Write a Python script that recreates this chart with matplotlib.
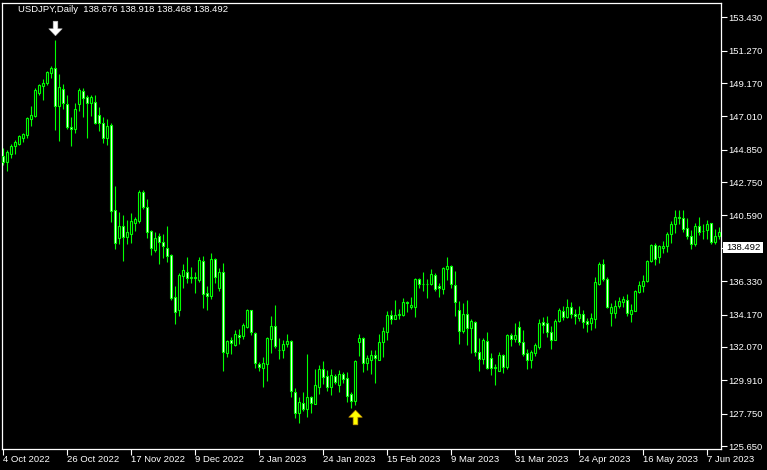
import numpy as np
import matplotlib.pyplot as plt
import matplotlib.transforms as mtransforms
from matplotlib.patches import Rectangle

plt.rcParams['font.family'] = ['Liberation Sans', 'DejaVu Sans']

symbol = "USDJPY,Daily"

# daily OHLC, one bar per trading day starting 4 Oct 2022 (last bar is the live one)
opens = [144.45, 144.06, 144.56, 145.10, 145.23, 145.64, 145.81, 146.87, 147.02, 148.51,
         148.98, 149.20, 149.82, 150.13, 147.69, 148.81, 147.84, 146.33, 146.20, 147.78,
         148.64, 148.25, 147.88, 147.91, 147.13, 146.61, 145.61, 146.48, 140.93, 139.14,
         139.90, 139.20, 139.42, 140.11, 140.24, 142.08, 141.11, 139.57, 138.34, 139.23,
         138.84, 138.45, 138.02, 135.28, 134.48, 136.66, 136.90, 136.55, 136.57, 136.42,
         137.61, 135.54, 135.38, 137.74, 135.88, 136.90, 131.65, 132.50, 132.19, 132.84,
         132.79, 133.38, 134.44, 132.95, 130.96, 130.72, 130.94, 132.56, 133.42, 131.88,
         131.85, 132.26, 132.43, 129.17, 127.77, 128.42, 128.03, 128.80, 128.39, 129.45,
         130.62, 130.18, 129.49, 130.18, 129.62, 130.31, 130.03, 129.02, 128.57, 132.41,
         132.62, 131.03, 131.24, 131.52, 131.24, 132.37, 133.05, 134.13, 133.89, 134.17,
         134.15, 135.00, 134.67, 134.67, 136.46, 136.12, 136.15, 136.12, 136.72, 136.01,
         135.82, 137.09, 137.31, 136.06, 134.48, 133.12, 134.18, 133.31, 133.68, 131.72,
         131.27, 132.43, 131.33, 130.72, 130.51, 131.52, 130.79, 132.82, 132.58, 133.34,
         132.37, 131.65, 131.24, 131.69, 132.08, 133.66, 133.60, 133.05, 132.53, 133.77,
         134.39, 134.02, 134.63, 134.18, 133.96, 134.18, 133.73, 133.63, 133.86, 136.12,
         137.42, 136.45, 134.24, 134.24, 134.74, 135.00, 135.09, 134.22, 134.41, 135.60,
         136.03, 136.32, 137.61, 138.65, 137.91, 138.49, 138.58, 139.42, 140.01, 140.52,
         140.40, 139.75, 139.27, 138.75, 139.91, 139.56, 139.62, 140.07, 138.88, 139.29,
         138.676]
highs = [144.93, 144.86, 145.21, 145.47, 145.79, 145.92, 146.95, 147.67, 148.88, 149.11,
         149.41, 149.93, 150.26, 151.94, 149.74, 149.09, 148.42, 146.94, 147.86, 148.85,
         148.85, 148.38, 148.42, 148.38, 147.60, 146.95, 146.82, 146.57, 142.49, 140.80,
         140.61, 140.28, 140.74, 140.50, 142.23, 142.23, 141.64, 139.64, 139.49, 139.44,
         139.38, 139.90, 138.08, 136.01, 136.85, 137.44, 137.89, 137.22, 136.90, 137.87,
         137.95, 136.01, 138.15, 137.82, 137.18, 137.50, 132.51, 132.69, 133.18, 133.23,
         133.60, 134.52, 134.46, 133.05, 131.07, 131.41, 132.73, 134.07, 134.78, 132.64,
         132.51, 132.90, 132.51, 129.39, 128.84, 129.13, 131.61, 128.89, 130.64, 130.90,
         131.15, 130.57, 130.64, 130.31, 130.55, 130.42, 130.42, 129.17, 131.22, 132.90,
         132.73, 131.52, 131.87, 131.87, 132.88, 133.34, 134.39, 134.44, 135.11, 134.50,
         135.23, 135.04, 135.32, 136.55, 136.53, 136.90, 136.46, 137.11, 136.83, 136.22,
         137.22, 137.91, 137.39, 136.98, 135.04, 134.91, 135.11, 133.85, 133.77, 132.64,
         132.64, 133.01, 131.67, 130.96, 131.74, 131.61, 132.90, 132.97, 133.60, 133.77,
         133.16, 131.91, 131.89, 132.34, 133.87, 134.02, 134.07, 133.42, 133.85, 134.57,
         134.72, 135.15, 134.97, 134.52, 134.70, 134.44, 133.94, 134.28, 136.57, 137.57,
         137.76, 136.57, 134.89, 135.11, 135.28, 135.34, 135.47, 134.83, 135.75, 136.33,
         136.70, 137.70, 138.75, 138.78, 138.69, 138.94, 139.51, 140.22, 140.93, 140.93,
         140.93, 140.40, 139.64, 140.07, 140.46, 140.03, 140.28, 140.11, 139.68, 139.81,
         138.918]
lows = [143.85, 143.48, 144.32, 144.56, 145.14, 145.36, 145.61, 146.39, 146.94, 148.38,
        148.07, 149.07, 149.50, 146.11, 145.40, 147.47, 146.18, 145.08, 145.94, 147.36,
        146.97, 145.61, 147.02, 146.50, 146.07, 145.29, 145.14, 140.18, 138.43, 138.71,
        137.63, 138.71, 138.81, 139.59, 140.11, 141.00, 139.16, 138.02, 138.23, 137.44,
        137.84, 137.60, 135.11, 133.55, 134.09, 135.90, 136.19, 136.19, 135.56, 136.27,
        134.59, 134.46, 135.17, 136.21, 135.71, 130.51, 131.43, 131.63, 132.15, 132.28,
        132.58, 133.31, 132.84, 130.72, 130.53, 129.49, 129.88, 131.65, 131.98, 131.30,
        131.37, 132.04, 128.84, 127.44, 127.16, 127.92, 127.55, 127.77, 128.35, 129.04,
        129.67, 129.21, 128.97, 129.69, 129.15, 129.71, 128.52, 128.09, 128.31, 131.48,
        130.44, 130.57, 130.31, 129.75, 131.20, 131.43, 132.51, 133.57, 133.87, 133.89,
        134.09, 134.33, 134.50, 134.02, 135.90, 135.69, 135.25, 136.10, 135.71, 135.32,
        135.49, 136.40, 135.90, 134.09, 132.26, 132.95, 132.19, 131.65, 131.48, 130.53,
        130.96, 130.64, 130.27, 129.60, 130.49, 130.40, 130.66, 132.15, 132.37, 132.19,
        131.48, 130.62, 130.72, 131.48, 131.95, 132.95, 132.73, 131.95, 132.51, 133.66,
        133.81, 133.92, 133.94, 133.53, 133.77, 133.29, 133.01, 133.18, 133.31, 136.06,
        136.33, 134.59, 133.44, 133.92, 134.57, 134.67, 134.09, 133.68, 134.37, 135.58,
        135.62, 136.29, 137.55, 137.39, 137.48, 138.17, 138.23, 138.78, 139.46, 140.03,
        139.53, 139.05, 138.39, 138.60, 139.31, 139.05, 139.04, 138.73, 138.75, 139.07,
        138.468]
closes = [144.06, 144.67, 145.12, 145.34, 145.72, 145.85, 146.89, 147.08, 148.70, 149.03,
          149.20, 149.87, 150.13, 147.69, 148.90, 147.88, 146.33, 146.20, 147.47, 148.70,
          148.20, 147.88, 148.25, 146.59, 146.55, 145.61, 146.39, 140.89, 138.78, 139.90,
          139.20, 139.51, 140.22, 140.35, 142.08, 141.15, 139.53, 138.50, 139.14, 138.88,
          138.62, 137.97, 135.22, 134.31, 136.72, 137.05, 136.55, 136.58, 136.56, 137.70,
          135.51, 135.38, 137.74, 136.57, 136.90, 131.72, 132.45, 132.30, 132.90, 132.69,
          133.49, 134.46, 133.01, 131.05, 130.79, 131.01, 132.64, 133.42, 132.13, 131.85,
          132.26, 132.45, 129.24, 127.81, 128.48, 128.07, 128.80, 128.42, 129.58, 130.64,
          130.14, 129.49, 130.23, 129.81, 130.31, 129.99, 128.91, 128.58, 131.14, 132.62,
          131.01, 131.33, 131.52, 131.37, 132.37, 133.10, 134.13, 133.89, 134.13, 134.20,
          134.98, 134.89, 134.76, 136.46, 136.12, 136.15, 136.14, 136.79, 135.80, 135.86,
          137.16, 137.31, 136.12, 134.96, 133.12, 134.20, 133.31, 133.74, 131.76, 131.28,
          132.51, 130.70, 130.72, 130.75, 131.52, 130.79, 132.82, 132.60, 132.82, 132.41,
          131.63, 131.24, 131.72, 132.17, 133.61, 133.51, 133.05, 132.53, 133.74, 134.44,
          134.00, 134.63, 134.18, 134.05, 134.18, 133.66, 133.57, 133.94, 136.25, 137.42,
          136.45, 134.63, 134.63, 134.74, 135.02, 135.17, 134.24, 134.44, 135.69, 136.06,
          136.32, 137.63, 138.65, 137.78, 138.58, 138.60, 139.42, 140.03, 140.52, 140.40,
          139.72, 139.27, 138.75, 139.90, 139.53, 139.59, 140.01, 138.86, 139.29, 139.53,
          138.492]

date_bars = [0, 16, 32, 48, 64, 80, 96, 112, 128, 144, 160, 176]
date_labels = ["4 Oct 2022", "26 Oct 2022", "17 Nov 2022", "9 Dec 2022", "2 Jan 2023",
               "24 Jan 2023", "15 Feb 2023", "9 Mar 2023", "31 Mar 2023", "24 Apr 2023",
               "16 May 2023", "7 Jun 2023"]
price_ticks = [153.430, 151.270, 149.170, 147.010, 144.850, 142.750, 140.590,
               136.330, 134.170, 132.070, 129.910, 127.750, 125.650]

high_arrow_bar = 13
low_arrow_bar = 88

W, H = 767, 470
fig = plt.figure(figsize=(W / 100, H / 100), dpi=100, facecolor='black')
ax = fig.add_axes([2 / W, 21 / H, 719 / W, 446 / H], facecolor='black')

o = np.array(opens)
hi = np.array(highs)
lo = np.array(lows)
c = np.array(closes)
x = np.arange(len(o))
up = c >= o
lime = '#00ff00'

ax.vlines(x, lo, hi, color=lime, lw=0.8, zorder=2)
bottom = np.minimum(o, c)
height = np.abs(c - o)
ax.bar(x[up], height[up], bottom=bottom[up], width=0.5, facecolor='black',
       edgecolor=lime, lw=0.8, zorder=3)
ax.bar(x[~up], height[~up], bottom=bottom[~up], width=0.5, facecolor='white',
       edgecolor=lime, lw=0.8, zorder=3)

ax.set_xlim(-0.33, 179.43)
ax.set_ylim(125.456, 154.357)

# fractal style arrows
down_arrow = [(-0.16, 0.5), (0.16, 0.5), (0.16, -0.02), (0.46, -0.02), (0, -0.5),
              (-0.46, -0.02), (-0.16, -0.02), (-0.16, 0.5)]
up_arrow = [(vx, -vy) for vx, vy in down_arrow]
t_up = mtransforms.offset_copy(ax.transData, fig, y=12, units='dots')
t_dn = mtransforms.offset_copy(ax.transData, fig, y=-12.5, units='dots')
ax.plot(high_arrow_bar, hi[high_arrow_bar], marker=down_arrow, ms=10.5, color='white',
        mec='#bbbbbb', mew=0.4, transform=t_up, clip_on=False, zorder=5)
ax.plot(low_arrow_bar, lo[low_arrow_bar], marker=up_arrow, ms=10.5, color='#ffff00',
        mec='#c89600', mew=0.5, transform=t_dn, clip_on=False, zorder=5)

# axes styling
for s in ax.spines.values():
    s.set_color('white')
    s.set_linewidth(0.9)
ax.yaxis.tick_right()
ax.set_yticks(price_ticks, [f"{p:.3f}" for p in price_ticks])
ax.tick_params(axis='y', colors='white', length=4, width=0.8, pad=1.5, labelsize=6.8)
ax.set_xticks(date_bars, date_labels)
ax.tick_params(axis='x', colors='white', length=4, width=0.8, pad=0.5, labelsize=6.8)
for lab in ax.get_xticklabels():
    lab.set_horizontalalignment('left')

# header
header = f"{symbol}  {opens[-1]:.3f} {highs[-1]:.3f} {lows[-1]:.3f} {closes[-1]:.3f}"
ax.text((18 - 2) / 719, (449 - 10) / 446, header, transform=ax.transAxes, color='white',
        fontsize=6.8, va='center', ha='left')

# current price label
ypix = ax.transData.transform((0, closes[-1]))[1]
fig.add_artist(Rectangle((723, ypix - 5.5), 40, 11, transform=mtransforms.IdentityTransform(),
                         facecolor='white', edgecolor='none'))
fig.text(726 / W, ypix / H, f"{closes[-1]:.3f}", color='black', fontsize=6.8,
         va='center', ha='left')
ax.plot([1.0, 1.0 + 4 / 719], [closes[-1]] * 2, color='white', lw=0.8,
        transform=mtransforms.blended_transform_factory(ax.transAxes, ax.transData),
        clip_on=False)

fig.savefig('out.png', dpi=100, facecolor='black')
